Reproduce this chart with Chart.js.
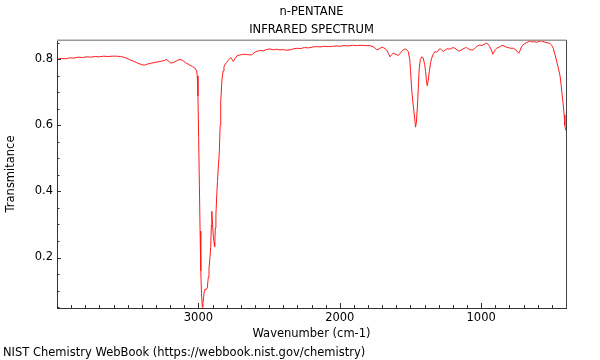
<!DOCTYPE html>
<html><head><meta charset="utf-8">
<script src="https://cdn.jsdelivr.net/npm/chart.js@4/dist/chart.umd.min.js"></script>
<style>html,body{margin:0;padding:0;background:#fff}#wrap{width:600px;height:360px;position:relative}</style>
</head><body><div id="wrap"><canvas id="c" width="600" height="360"></canvas></div>
<script>
const wavenumbers = [4000,3970,3940,3910,3880,3850,3820,3790,3760,3730,3700,3670,3640,3610,3580,3550,3520,3490,3460,3430,3400,3380,3360,3330,3300,3270,3240,3222,3210,3195,3175,3150,3130,3110,3090,3060,3040,3025,3012,3008,3003,2998,2993,2988,2983,2978,2972,2968,2963,2958,2953,2948,2943,2937,2930,2925,2918,2913,2908,2905,2900,2895,2889,2885,2880,2876,2870,2865,2858,2852,2846,2842,2836,2831,2825,2819,2810,2800,2790,2780,2772,2762,2753,2740,2725,2700,2682,2660,2640,2623,2600,2570,2540,2520,2494,2470,2450,2423,2400,2380,2352,2330,2300,2280,2250,2220,2190,2164,2140,2110,2080,2050,2020,2000,1970,1940,1910,1880,1850,1820,1786,1760,1739,1720,1700,1692,1680,1669,1655,1645,1632,1622,1605,1586,1570,1555,1539,1528,1516,1505,1499,1490,1480,1470,1464,1458,1449,1443,1438,1430,1421,1410,1400,1393,1387,1381,1375,1367,1358,1350,1340,1327,1315,1303,1295,1287,1278,1268,1255,1240,1225,1210,1197,1185,1170,1160,1150,1135,1120,1103,1090,1075,1056,1040,1025,1009,995,980,962,950,939,925,918,910,900,891,870,856,844,825,810,790,773,755,740,733,724,714,700,680,668,655,640,625,608,590,573,555,535,514,500,490,478,465,455,443,435,427,420,413,408,402];
const transmittance = [0.801,0.803,0.802,0.805,0.804,0.807,0.806,0.808,0.807,0.809,0.808,0.810,0.809,0.810,0.810,0.809,0.806,0.800,0.795,0.789,0.784,0.783,0.786,0.789,0.792,0.794,0.797,0.800,0.794,0.789,0.791,0.797,0.800,0.797,0.790,0.783,0.778,0.774,0.765,0.750,0.690,0.560,0.420,0.280,0.160,0.090,0.049,0.060,0.080,0.098,0.104,0.102,0.104,0.108,0.14,0.167,0.20,0.23,0.30,0.34,0.30,0.268,0.245,0.233,0.29,0.33,0.39,0.43,0.48,0.52,0.60,0.67,0.72,0.748,0.765,0.778,0.786,0.791,0.797,0.802,0.806,0.800,0.794,0.803,0.812,0.814,0.816,0.815,0.814,0.814,0.822,0.827,0.826,0.830,0.832,0.829,0.831,0.829,0.830,0.828,0.829,0.832,0.834,0.833,0.836,0.835,0.838,0.839,0.838,0.840,0.839,0.840,0.841,0.840,0.842,0.841,0.843,0.842,0.843,0.842,0.842,0.838,0.829,0.833,0.837,0.836,0.833,0.829,0.818,0.808,0.815,0.819,0.816,0.812,0.820,0.828,0.832,0.830,0.824,0.800,0.763,0.70,0.66,0.62,0.595,0.61,0.672,0.73,0.773,0.800,0.808,0.805,0.785,0.763,0.735,0.72,0.735,0.763,0.790,0.804,0.815,0.824,0.822,0.826,0.832,0.832,0.828,0.824,0.828,0.833,0.831,0.834,0.836,0.834,0.829,0.826,0.826,0.830,0.834,0.836,0.832,0.829,0.829,0.836,0.841,0.844,0.842,0.846,0.849,0.846,0.839,0.826,0.816,0.822,0.830,0.834,0.838,0.842,0.842,0.838,0.836,0.834,0.834,0.829,0.822,0.819,0.828,0.839,0.846,0.851,0.853,0.856,0.853,0.854,0.852,0.855,0.856,0.853,0.851,0.849,0.842,0.834,0.815,0.793,0.775,0.753,0.725,0.692,0.665,0.632,0.60,0.585];
const xTickLabels = [3000, 2000, 1000];
const yTickLabels = [0.2, 0.4, 0.6, 0.8];
const titleLines = ['n-PENTANE', 'INFRARED SPECTRUM'];
const xAxisTitle = 'Wavenumber (cm-1)';
const yAxisTitle = 'Transmitance';
const footerText = 'NIST Chemistry WebBook (https://webbook.nist.gov/chemistry)';

const FONT = 'DejaVu Sans';
const FS = 11.5;
const xMinorStep = 100, yMinorStep = 0.05;

const frameTicks = {
  id: 'frameTicks',
  afterDraw(chart) {
    const {ctx, chartArea: {left, right, top, bottom}, scales: {x, y}} = chart;
    ctx.save();
    ctx.strokeStyle = '#333';
    ctx.lineWidth = 1;
    ctx.beginPath();
    for (let v = Math.ceil(x.min / xMinorStep) * xMinorStep; v <= x.max; v += xMinorStep) {
      const px = Math.round(x.getPixelForValue(v)) + 0.5;
      if (px <= left + 1 || px >= right - 1) continue;
      const len = v % 1000 === 0 ? 5 : 3;
      ctx.moveTo(px, bottom); ctx.lineTo(px, bottom - len);
    }
    for (let i = Math.ceil(y.min / yMinorStep); i * yMinorStep <= y.max + 1e-9; i++) {
      const py = Math.round(y.getPixelForValue(i * yMinorStep)) + 0.5;
      const len = i % 4 === 0 ? 4 : 2.5;
      ctx.moveTo(left, py); ctx.lineTo(left + len, py);
    }
    ctx.stroke();
    ctx.beginPath();
    ctx.strokeStyle = '#444';
    ctx.moveTo(Math.round(right) + 0.5, top); ctx.lineTo(Math.round(right) + 0.5, bottom);
    ctx.stroke();
    ctx.beginPath();
    ctx.strokeStyle = '#9a9a9a';
    ctx.lineWidth = 1.5;
    ctx.moveTo(left, Math.round(top) + 0.25); ctx.lineTo(right + 0.5, Math.round(top) + 0.25);
    ctx.stroke();
    ctx.restore();
  }
};

new Chart(document.getElementById('c'), {
  type: 'line',
  data: {
    datasets: [{
      data: wavenumbers.map((w, i) => ({x: w, y: transmittance[i]})),
      borderColor: '#ff1a1a',
      borderWidth: 1,
      pointRadius: 0,
      tension: 0,
      fill: false
    }]
  },
  options: {
    responsive: false,
    animation: false,
    layout: {padding: {left: 3, right: 34, top: 0, bottom: 0}},
    plugins: {
      legend: {display: false},
      tooltip: {enabled: false},
      title: {
        display: true, fullSize: false, text: titleLines, color: '#000',
        font: {family: FONT, size: FS, weight: 'normal', lineHeight: 18 / FS},
        padding: {top: 3, bottom: 1}
      },
      subtitle: {
        display: true, position: 'bottom', align: 'start', text: footerText, color: '#000',
        font: {family: FONT, size: FS, weight: 'normal', lineHeight: 1.2},
        padding: {top: 5, bottom: 0}
      }
    },
    scales: {
      x: {
        type: 'linear', reverse: true, min: 400, max: 4000,
        afterBuildTicks: s => { s.ticks = xTickLabels.map(v => ({value: v})); },
        afterFit: s => { s.height = 33.2; },
        ticks: {color: '#000', font: {family: FONT, size: FS}, padding: 3, maxRotation: 0, autoSkip: false, callback: v => String(v)},
        grid: {display: false, drawTicks: false},
        border: {display: true, color: '#333', width: 1},
        title: {display: true, text: xAxisTitle, color: '#000', font: {family: FONT, size: FS, lineHeight: 1.2}, padding: {top: 0, bottom: 0.5}}
      },
      y: {
        type: 'linear', min: 0.047, max: 0.859,
        afterBuildTicks: s => { s.ticks = yTickLabels.map(v => ({value: v})); },
        afterFit: s => { s.width = 54; },
        ticks: {color: '#000', font: {family: FONT, size: FS}, padding: 4, callback: v => v.toFixed(1)},
        grid: {display: false, drawTicks: false},
        border: {display: true, color: '#333', width: 1},
        title: {display: true, text: yAxisTitle, color: '#000', font: {family: FONT, size: FS, lineHeight: 1.2}, padding: {top: 1.1, bottom: 0}}
      }
    }
  },
  plugins: [frameTicks]
});
</script>
</body></html>
